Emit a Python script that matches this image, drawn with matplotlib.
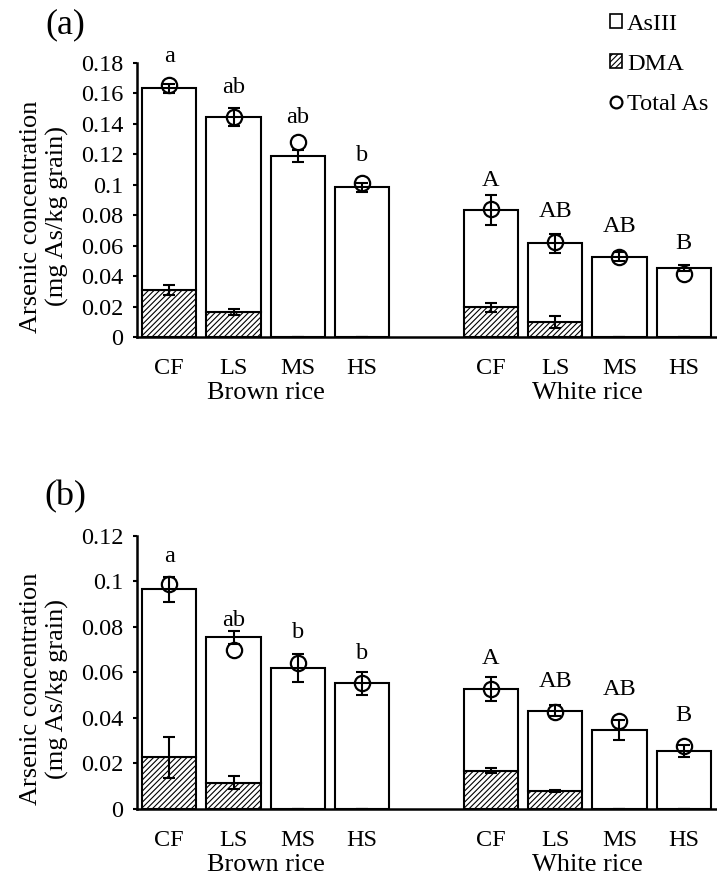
import numpy as np
import matplotlib
matplotlib.use("Agg")
import matplotlib.pyplot as plt
from matplotlib.patches import Patch
from matplotlib.lines import Line2D

plt.rcParams['font.family'] = ['Liberation Serif', 'DejaVu Serif']
plt.rcParams['hatch.linewidth'] = 0.8

treatments = ['CF', 'LS', 'MS', 'HS', 'CF', 'LS', 'MS', 'HS']
groups = ['Brown rice', 'White rice']

# (a) grain As species, mg As/kg grain
dma_a = [0.031, 0.0165, 0, 0, 0.0195, 0.010, 0, 0]
dma_err_a = [0.0033, 0.002, 0, 0, 0.003, 0.0038, 0, 0]
asiii_a = [0.1325, 0.128, 0.119, 0.0983, 0.0638, 0.0515, 0.0526, 0.0455]
asiii_err_a = [0.003, 0.006, 0.004, 0.003, 0.0099, 0.0064, 0.003, 0.002]
total_a = [0.1655, 0.1443, 0.1283, 0.101, 0.0841, 0.0622, 0.0528, 0.0414]
letters_a = ['a', 'ab', 'ab', 'b', 'A', 'AB', 'AB', 'B']
letter_y_a = [0.184, 0.1636, 0.1439, 0.119, 0.1031, 0.0823, 0.0725, 0.0616]

# (b)
dma_b = [0.0227, 0.0116, 0, 0, 0.0167, 0.008, 0, 0]
dma_err_b = [0.009, 0.0029, 0, 0, 0.0011, 0.0005, 0, 0]
asiii_b = [0.0738, 0.0638, 0.0618, 0.0552, 0.036, 0.0352, 0.0347, 0.0256]
asiii_err_b = [0.0055, 0.003, 0.0062, 0.005, 0.0051, 0.0025, 0.0044, 0.0026]
total_b = [0.0987, 0.0698, 0.0642, 0.0553, 0.0529, 0.0428, 0.0386, 0.0277]
letters_b = ['a', 'ab', 'b', 'b', 'A', 'AB', 'AB', 'B']
letter_y_b = [0.1108, 0.083, 0.0774, 0.0684, 0.0662, 0.0559, 0.0523, 0.0413]

x = np.array([0, 1, 2, 3, 5, 6, 7, 8])
fs = 17.5
fs_lab = 19

fig = plt.figure(figsize=(7.17, 8.88), dpi=100)
ax1 = fig.add_axes([0.1911, 0.6205, 0.8075, 0.3086])
ax2 = fig.add_axes([0.1911, 0.0890, 0.8075, 0.3074])


def panel(ax, dma, dma_err, asiii, asiii_err, total, letters, letter_y, ymax, step):
    dma = np.array(dma)
    asiii = np.array(asiii)
    top = dma + asiii
    ax.bar(x, dma, width=0.84, color='white', edgecolor='black', hatch='//////',
           linewidth=1.5, zorder=2)
    ax.bar(x, asiii, bottom=dma, width=0.84, color='white', edgecolor='black',
           linewidth=1.5, zorder=2)
    ax.errorbar(x, dma, yerr=dma_err, fmt='none', ecolor='black', elinewidth=1.5,
                capsize=4.5, capthick=1.5, zorder=3)
    ax.errorbar(x, top, yerr=asiii_err, fmt='none', ecolor='black', elinewidth=1.5,
                capsize=4.5, capthick=1.5, zorder=3)
    ax.plot(x, total, 'o', mfc='none', mec='black', mew=1.6, ms=11, zorder=4)
    for xi, lab, ly in zip(x, letters, letter_y):
        ax.text(xi, ly, lab, ha='center', va='center', fontsize=fs)

    ax.set_xlim(-0.5, 8.5)
    ax.set_ylim(0, ymax)
    ax.set_yticks(np.arange(0, ymax + step / 2, step))
    ax.set_yticklabels(['0'] + ['%g' % v for v in np.arange(step, ymax + step / 2, step)])
    ax.set_xticks(x)
    ax.set_xticklabels(treatments)
    ax.tick_params(axis='x', length=0, pad=15, labelsize=fs)
    ax.tick_params(axis='y', length=3, width=1.5, direction='out', labelsize=fs, pad=7)
    for s in ['top', 'right']:
        ax.spines[s].set_visible(False)
    for s in ['left', 'bottom']:
        ax.spines[s].set_linewidth(1.8)
    ax.set_ylabel('Arsenic concentration\n(mg As/kg grain)', fontsize=fs_lab, linespacing=1.2)
    ax.yaxis.set_label_coords(-0.118, 0.44)
    for gx, g in zip([1.5, 6.5], groups):
        ax.annotate(g, xy=(gx, 0), xycoords=('data', 'axes fraction'),
                    xytext=(0, -40), textcoords='offset points',
                    ha='center', va='center', fontsize=fs_lab)


panel(ax1, dma_a, dma_err_a, asiii_a, asiii_err_a, total_a, letters_a, letter_y_a, 0.18, 0.02)
panel(ax2, dma_b, dma_err_b, asiii_b, asiii_err_b, total_b, letters_b, letter_y_b, 0.12, 0.02)

fig.text(65 / 717, 1 - 25 / 888, '(a)', ha='center', va='center', fontsize=26)
fig.text(65 / 717, 1 - 497 / 888, '(b)', ha='center', va='center', fontsize=26)

handles = [Patch(facecolor='white', edgecolor='black', linewidth=1.2),
           Patch(facecolor='white', edgecolor='black', hatch='//////', linewidth=1.2),
           Line2D([], [], marker='o', ls='none', mfc='none', mec='black', mew=1.6, ms=8.5)]
fig.legend(handles, ['AsIII', 'DMA', 'Total As'], loc='upper left',
           bbox_to_anchor=(610 / 717, 1 - 14 / 888), frameon=False, fontsize=fs,
           handlelength=0.5, handleheight=0.5, handletextpad=0.2, labelspacing=0.78,
           borderpad=0, borderaxespad=0)

fig.savefig('out.png', dpi=100)
